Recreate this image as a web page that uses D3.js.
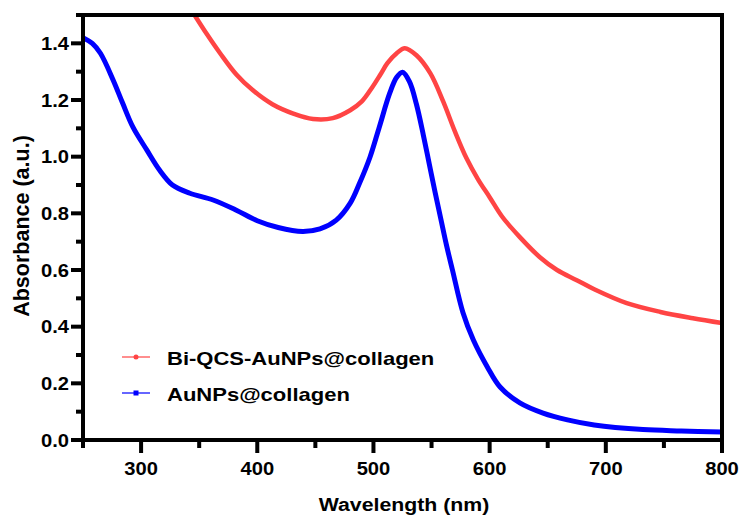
<!DOCTYPE html>
<html>
<head>
<meta charset="utf-8">
<script src="https://cdn.jsdelivr.net/npm/d3@7"></script>
<style>
  body { margin: 0; background: #fff; }
  text { font-family: "Liberation Sans", Arial, sans-serif; font-weight: bold; fill: #000; }
</style>
</head>
<body>
<div id="chart"></div>
<script>
// wavelength (nm) and absorbance
var redWavelength = [346, 357, 368, 382, 396, 413, 431, 448, 465, 480, 490, 499, 506, 512, 520, 527, 537, 549, 560, 570, 580, 590, 600, 611, 626, 643, 658, 675, 690, 718, 747, 775, 800];
var redAbs = [1.50, 1.43, 1.365, 1.29, 1.235, 1.185, 1.152, 1.133, 1.136, 1.164, 1.195, 1.245, 1.29, 1.33, 1.365, 1.383, 1.358, 1.294, 1.195, 1.09, 0.995, 0.92, 0.857, 0.787, 0.716, 0.646, 0.60, 0.564, 0.532, 0.483, 0.452, 0.43, 0.413];

var blueWavelength = [250, 258, 265, 276, 284, 293, 305, 316, 327, 342, 362, 382, 400, 418, 439, 454, 468, 480, 488, 497, 505, 514, 520, 525, 531, 537, 543, 548, 553, 558, 563, 568, 577, 586, 598, 609, 626, 646, 667, 690, 732, 765, 800];
var blueAbs = [1.42, 1.40, 1.365, 1.27, 1.19, 1.104, 1.023, 0.952, 0.90, 0.871, 0.847, 0.811, 0.774, 0.750, 0.736, 0.745, 0.776, 0.836, 0.906, 0.998, 1.104, 1.224, 1.28, 1.298, 1.265, 1.185, 1.075, 0.975, 0.875, 0.78, 0.685, 0.60, 0.45, 0.353, 0.258, 0.187, 0.131, 0.095, 0.071, 0.053, 0.037, 0.032, 0.028];

var seriesNames = ["Bi-QCS-AuNPs@collagen", "AuNPs@collagen"];
var xTicks = [300, 400, 500, 600, 700, 800];
var yTicks = [0.0, 0.2, 0.4, 0.6, 0.8, 1.0, 1.2, 1.4];

var W = 740, H = 516;
var margin = {top: 15, right: 18, bottom: 76, left: 83};
var plotBottom = H - margin.bottom;

var svg = d3.select("#chart").append("svg")
    .attr("width", W)
    .attr("height", H);

var x_scale = d3.scaleLinear()
    .domain([250, 800])
    .range([margin.left, W - margin.right]);

var y_scale = d3.scaleLinear()
    .domain([0, 1.5])
    .range([plotBottom, margin.top]);

svg.append("clipPath").attr("id", "plot")
  .append("rect")
    .attr("x", margin.left)
    .attr("y", margin.top)
    .attr("width", W - margin.right - margin.left)
    .attr("height", plotBottom - margin.top);

var specLine = d3.line()
    .x(function(d) { return x_scale(d[0]); })
    .y(function(d) { return y_scale(d[1]); })
    .curve(d3.curveCatmullRom.alpha(0.5));

function spectrum(wl, ab, colour, w) {
  var pts = wl.map(function(v, i) { return [v, ab[i]]; });
  svg.append("path")
    .datum(pts)
    .attr("clip-path", "url(#plot)")
    .attr("fill", "none")
    .attr("stroke", colour)
    .attr("stroke-width", w)
    .attr("stroke-linejoin", "round")
    .attr("d", specLine);
}

spectrum(redWavelength, redAbs, "#ff4444", 4.5);
spectrum(blueWavelength, blueAbs, "#0000ff", 5);

// frame
svg.append("rect")
    .attr("x", margin.left)
    .attr("y", margin.top)
    .attr("width", W - margin.right - margin.left)
    .attr("height", plotBottom - margin.top)
    .attr("fill", "none")
    .attr("stroke", "#000")
    .attr("stroke-width", 4);

// ticks as small filled rects: every 50 nm on x (long at each 100), every 0.1 on y (long at each 0.2)
var xTickVals = d3.range(250, 801, 50);
svg.append("g").selectAll("rect")
  .data(xTickVals)
  .enter().append("rect")
    .attr("x", function(d) { return x_scale(d) - 2; })
    .attr("y", plotBottom)
    .attr("width", 4)
    .attr("height", function(d) { return d % 100 == 0 ? 13 : 8; })
    .attr("fill", "#000");

var yTickVals = d3.range(0, 16).map(function(i) { return i / 10; });
svg.append("g").selectAll("rect")
  .data(yTickVals)
  .enter().append("rect")
    .attr("x", function(d, i) { return i % 2 == 0 ? margin.left - 12 : margin.left - 7; })
    .attr("y", function(d) { return y_scale(d) - 2; })
    .attr("width", function(d, i) { return i % 2 == 0 ? 12 : 7; })
    .attr("height", 4)
    .attr("fill", "#000");

// tick labels, the source figure is a bit wide so stretch them
xTicks.forEach(function(t) {
  svg.append("text")
    .attr("transform", "translate(" + x_scale(t) + ",475) scale(1.12,1)")
    .attr("text-anchor", "middle")
    .style("font-size", "18px")
    .text(t);
});
yTicks.forEach(function(t) {
  svg.append("text")
    .attr("transform", "translate(69," + (y_scale(t) + 6.5) + ") scale(1.12,1)")
    .attr("text-anchor", "end")
    .style("font-size", "18px")
    .text(d3.format(".1f")(t));
});

svg.append("text")
    .attr("transform", "translate(404,511) scale(1.12,1)")
    .attr("text-anchor", "middle")
    .style("font-size", "19px")
    .text("Wavelength (nm)");

svg.append("text")
    .attr("transform", "translate(29,226) rotate(-90)")
    .attr("text-anchor", "middle")
    .style("font-size", "21.5px")
    .text("Absorbance (a.u.)");

// legend
var legendY = [357, 393];
var legendCol = ["#ff4444", "#0000ff"];
seriesNames.forEach(function(name, i) {
  svg.append("line")
    .attr("x1", 122).attr("x2", 150)
    .attr("y1", legendY[i]).attr("y2", legendY[i])
    .attr("stroke", legendCol[i])
    .attr("stroke-width", 1.2);
  if (i == 0) {
    svg.append("circle")
      .attr("cx", 136).attr("cy", legendY[i]).attr("r", 2.5)
      .attr("fill", legendCol[i]);
  } else {
    svg.append("rect")
      .attr("x", 133.5).attr("y", legendY[i] - 2.5)
      .attr("width", 5).attr("height", 5)
      .attr("fill", legendCol[i]);
  }
  svg.append("text")
    .attr("transform", "translate(167," + (legendY[i] + 7.5) + ") scale(1.19,1)")
    .style("font-size", "18.5px")
    .text(name);
});
</script>
</body>
</html>
